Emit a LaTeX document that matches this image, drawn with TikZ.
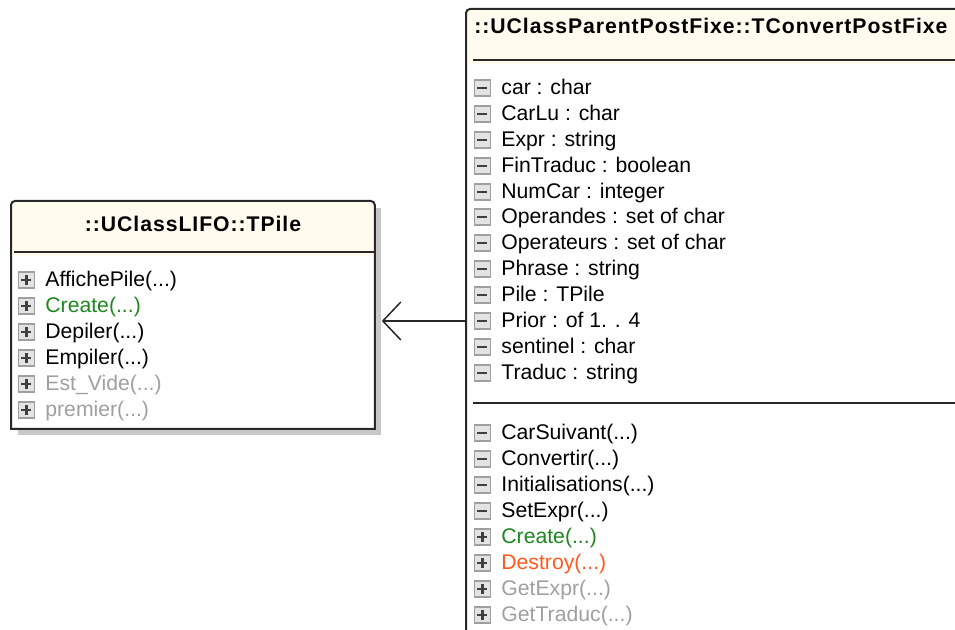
\documentclass[tikz,border=0pt]{standalone}
\usepackage{fontspec}
\setmainfont{Liberation Sans}
\newfontfamily\titrefont[LetterSpace=4.5]{Liberation Sans}
\usepackage{tikz}
\usetikzlibrary{arrows.meta, positioning}
\definecolor{entete}{RGB}{255,251,238}
\definecolor{ombre}{RGB}{200,200,200}
\definecolor{bordure}{RGB}{40,40,40}
\definecolor{publie}{RGB}{30,135,30}
\definecolor{detruit}{RGB}{255,90,30}
\definecolor{herite}{RGB}{160,160,160}
\tikzset{
  classe/.style={rectangle, draw=none, fill=white, inner sep=0pt, anchor=north west},
  cadre/.style={draw=bordure, line width=1pt},
  separe/.style={draw=bordure, line width=0.8pt},
  titre/.style={font=\titrefont\bfseries\fontsize{10.6}{12}\selectfont,
    inner sep=0pt, text height=8pt, text depth=2pt},
  membre/.style={anchor=west, inner sep=0pt, text height=9pt, text depth=2pt,
    font=\fontsize{10.6}{12}\selectfont},
  icone/.style={rectangle, draw=gray!75, fill=gray!22, line width=0.6pt,
    minimum size=8pt, inner sep=0pt, xshift=-5pt},
  iconemoins/.style={icone, path picture={
    \draw[line width=1.1pt, black!75]
      ([xshift=-2.5pt]path picture bounding box.center) --
      ([xshift=2.5pt]path picture bounding box.center);}},
  iconeplus/.style={icone, path picture={
    \draw[line width=1.1pt, black!75]
      ([xshift=-2.5pt]path picture bounding box.center) --
      ([xshift=2.5pt]path picture bounding box.center)
      ([yshift=-2.5pt]path picture bounding box.center) --
      ([yshift=2.5pt]path picture bounding box.center);}},
  prive/.style={membre, label={[iconemoins]left:{}}},
  public/.style={membre, label={[iconeplus]left:{}}},
  assoc/.style={-{Straight Barb[length=9pt, width=19pt]}, line width=0.75pt,
    color=bordure, shorten >=3.5pt}
}
\begin{document}
\begin{tikzpicture}[x=0.5pt, y=-0.5pt]
  \useasboundingbox (0,0) rectangle (955,630);
  \clip (0,0) rectangle (955,630);
  % classe TPile
  \fill[ombre] (18,208) rectangle (381,435);
  \node[classe, minimum width=181.5pt, minimum height=113.5pt] (pile) at (11,201) {};
  \fill[entete, rounded corners=2pt] (pile.north west) rectangle (pile.east |- 0,256);
  \draw[cadre] (pile.south west) -- ([yshift=-2pt]pile.north west)
    arc[start angle=180, end angle=90, radius=2pt] -- ([xshift=-2pt]pile.north east)
    arc[start angle=90, end angle=0, radius=2pt] -- (pile.south east) -- cycle;
  \draw[separe] ([xshift=1.5pt]pile.west |- 0,252) -- (pile.east |- 0,252);
  \node[titre, anchor=base] (titrepile) at (193,232) {::UClassLIFO::TPile};
  \node[public] (affiche) at (45,280) {AffichePile(...)};
  \node[public, text=publie] (createpile) at (45,306) {Create(...)};
  \node[public] (depiler) at (45,332) {Depiler(...)};
  \node[public] (empiler) at (45,358) {Empiler(...)};
  \node[public, text=herite] (estvide) at (45,384) {Est\_Vide(...)};
  \node[public, text=herite] (premier) at (45,410) {premier(...)};
  % classe TConvertPostFixe
  \node[classe, minimum width=300pt, minimum height=320pt] (conv) at (466,9) {};
  \fill[entete, rounded corners=2pt] (conv.north west) rectangle (conv.east |- 0,64);
  \draw[cadre] (conv.south west) -- ([yshift=-2pt]conv.north west)
    arc[start angle=180, end angle=90, radius=2pt] -- ([xshift=-2pt]conv.north east)
    arc[start angle=90, end angle=0, radius=2pt] -- (conv.south east);
  \draw[separe] ([xshift=3.5pt]conv.west |- 0,60) -- (conv.east |- 0,60);
  \draw[separe] ([xshift=3.5pt]conv.west |- 0,403) -- (conv.east |- 0,403);
  \node[titre, anchor=base west] (titreconv) at (474,34) {::UClassParentPostFixe::TConvertPostFixe};
  \node[prive] (car) at (501,88) {car : char};
  \node[prive] (carlu) at (501,114) {CarLu : char};
  \node[prive] (expr) at (501,140) {Expr : string};
  \node[prive] (fintraduc) at (501,166) {FinTraduc : boolean};
  \node[prive] (numcar) at (501,192) {NumCar : integer};
  \node[prive] (operandes) at (501,217) {Operandes : set of char};
  \node[prive] (operateurs) at (501,243) {Operateurs : set of char};
  \node[prive] (phrase) at (501,269) {Phrase : string};
  \node[prive] (pileattr) at (501,295) {Pile : TPile};
  \node[prive] (prior) at (501,321) {Prior : of 1. . 4};
  \node[prive] (sentinel) at (501,347) {sentinel : char};
  \node[prive] (traduc) at (501,373) {Traduc : string};
  \node[prive] (carsuivant) at (501,433) {CarSuivant(...)};
  \node[prive] (convertir) at (501,459) {Convertir(...)};
  \node[prive] (init) at (501,485) {Initialisations(...)};
  \node[prive] (setexpr) at (501,511) {SetExpr(...)};
  \node[public, text=publie] (createconv) at (501,537) {Create(...)};
  \node[public, text=detruit] (destroy) at (501,563) {Destroy(...)};
  \node[public, text=herite] (getexpr) at (501,589) {GetExpr(...)};
  \node[public, text=herite] (gettraduc) at (501,615) {GetTraduc(...)};
  % association
  \draw[assoc] (conv.west |- prior) -- (pile.east |- prior);
\end{tikzpicture}
\end{document}
